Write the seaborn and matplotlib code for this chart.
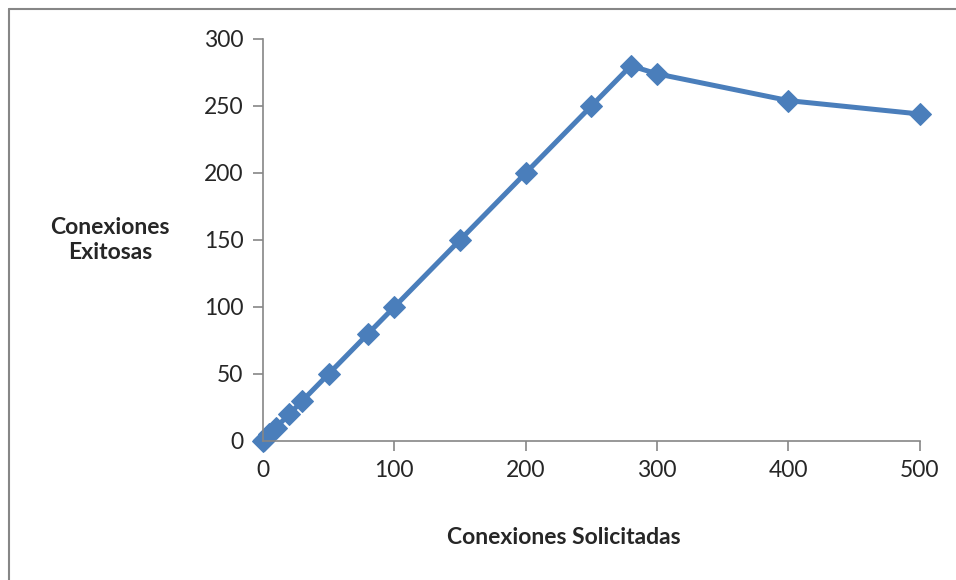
import matplotlib
matplotlib.use("Agg")
import matplotlib.pyplot as plt
import seaborn as sns
import pandas as pd
from matplotlib.lines import Line2D

# data
solicitadas = [0, 1, 5, 10, 20, 30, 50, 80, 100, 150, 200, 250, 280, 300, 400, 500]
exitosas = [0, 1, 5, 10, 20, 30, 50, 80, 100, 150, 200, 250, 280, 274, 254, 244]
x_ticks = [0, 100, 200, 300, 400, 500]
y_ticks = [0, 50, 100, 150, 200, 250, 300]

df = pd.DataFrame({"Solicitadas": solicitadas, "Exitosas": exitosas})

sns.set_style("white")
plt.rcParams['font.family'] = ['Lato', 'DejaVu Sans']

fig = plt.figure(figsize=(9.56, 5.8), dpi=100)
ax = fig.add_axes([0.275, 0.2397, 0.6872, 0.6931])

sns.lineplot(data=df, x="Solicitadas", y="Exitosas", ax=ax, color="#4A7EBB",
             linewidth=3.6, marker="D", markersize=11, markeredgecolor="#4A7EBB",
             sort=False, clip_on=False)

ax.set_xlim(0, 500)
ax.set_ylim(0, 300)
ax.set_xticks(x_ticks)
ax.set_yticks(y_ticks)
ax.tick_params(axis="both", labelsize=16.5, direction="out", length=7,
               color="#868686", width=1.2, pad=7, left=True, bottom=True)

for side in ["top", "right"]:
    ax.spines[side].set_visible(False)
for side in ["left", "bottom"]:
    ax.spines[side].set_color("#868686")
    ax.spines[side].set_linewidth(1.2)

ax.set_xlabel("")
ax.set_ylabel("")
fig.text(0.59, 0.074, "Conexiones Solicitadas", ha="center", va="center",
         fontsize=16.5, fontweight="bold")
fig.text(0.115, 0.586, "Conexiones\nExitosas", ha="center", va="center",
         fontsize=16.5, fontweight="bold", linespacing=1.25)

# chart frame
fig.add_artist(Line2D([8.5 / 956, 8.5 / 956], [0, 1 - 8.5 / 580],
                      transform=fig.transFigure, color="#868686", linewidth=1.5))
fig.add_artist(Line2D([8.5 / 956, 1], [1 - 8.5 / 580, 1 - 8.5 / 580],
                      transform=fig.transFigure, color="#868686", linewidth=1.5))

fig.savefig("out.png", dpi=100)
